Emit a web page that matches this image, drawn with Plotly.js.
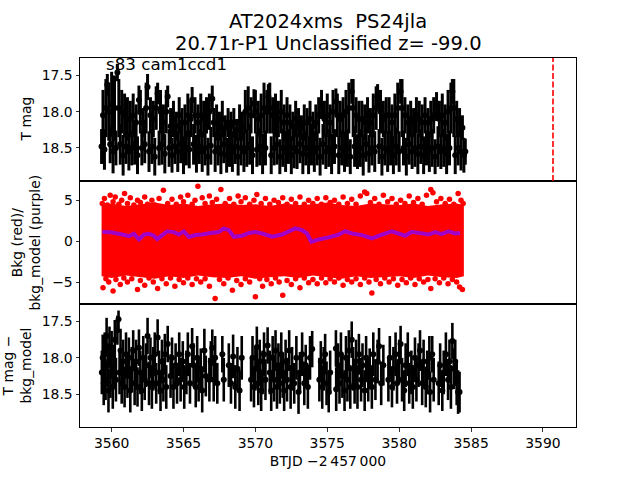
<!DOCTYPE html>
<html><head><meta charset="utf-8">
<script src="https://cdn.plot.ly/plotly-3.0.1.min.js"></script>
<style>html,body{margin:0;padding:0;background:#fff}#chart{width:640px;height:480px}</style>
</head><body><div id="chart"></div>
<script>
// ---------- Top panel: T mag light curve ----------
const tTop = [
3559.3,3559.4,3559.5,3559.6,3559.7,3559.8,3559.9,3560.0,3560.1,3560.2,
3560.3,3560.4,3560.5,3560.6,3560.7,3560.8,3560.9,3561.0,3561.1,3561.2,
3561.3,3561.4,3561.5,3561.6,3561.7,3561.8,3561.9,3562.0,3562.1,3562.2,
3562.3,3562.4,3562.5,3562.6,3562.7,3562.8,3562.9,3563.0,3563.1,3563.2,
3563.3,3563.4,3563.5,3563.6,3563.7,3563.8,3563.9,3564.0,3564.1,3564.2,
3564.3,3564.4,3564.5,3564.6,3564.7,3564.8,3564.9,3565.0,3565.1,3565.2,
3565.3,3565.4,3565.5,3565.6,3565.7,3565.8,3565.9,3566.0,3566.1,3566.2,
3566.3,3566.4,3566.5,3566.6,3566.7,3566.8,3566.9,3567.0,3567.1,3567.2,
3567.3,3567.4,3567.5,3567.6,3567.7,3567.8,3567.9,3568.0,3568.1,3568.2,
3568.3,3568.4,3568.5,3568.6,3568.7,3568.8,3568.9,3569.0,3569.1,3569.2,
3569.3,3569.4,3569.5,3569.6,3569.7,3569.8,3569.9,3570.0,3570.1,3570.2,
3570.3,3570.4,3570.5,3570.6,3570.7,3570.8,3570.9,3571.0,3571.1,3571.2,
3571.3,3571.4,3571.5,3571.6,3571.7,3571.8,3571.9,3572.0,3572.1,3572.2,
3572.3,3572.4,3572.5,3572.6,3572.7,3572.8,3572.9,3573.0,3573.1,3573.2,
3573.3,3573.4,3573.5,3573.6,3573.7,3573.8,3573.9,3574.0,3574.1,3574.2,
3574.3,3574.4,3574.5,3574.6,3574.7,3574.8,3574.9,3575.0,3575.1,3575.2,
3575.3,3575.4,3575.5,3575.6,3575.7,3575.8,3575.9,3576.0,3576.1,3576.2,
3576.3,3576.4,3576.5,3576.6,3576.7,3576.8,3576.9,3577.0,3577.1,3577.2,
3577.3,3577.4,3577.5,3577.6,3577.7,3577.8,3577.9,3578.0,3578.1,3578.2,
3578.3,3578.4,3578.5,3578.6,3578.7,3578.8,3578.9,3579.0,3579.1,3579.2,
3579.3,3579.4,3579.5,3579.6,3579.7,3579.8,3579.9,3580.0,3580.1,3580.2,
3580.3,3580.4,3580.5,3580.6,3580.7,3580.8,3580.9,3581.0,3581.1,3581.2,
3581.3,3581.4,3581.5,3581.6,3581.7,3581.8,3581.9,3582.0,3582.1,3582.2,
3582.3,3582.4,3582.5,3582.6,3582.7,3582.8,3582.9,3583.0,3583.1,3583.2,
3583.3,3583.4,3583.5,3583.6,3583.7,3583.8,3583.9,3584.0,3584.1,3584.2,
3584.3,3584.4,3584.5,3584.6];
const magTop = [
18.48,18.05,18.52,17.95,17.63,18.0,18.45,17.9,18.55,17.95,
18.5,17.46,17.95,18.45,18.0,18.6,18.05,18.48,18.1,18.55,
18.1,18.5,18.05,18.45,18.15,18.6,17.84,18.0,18.5,18.15,
18.45,17.95,17.66,18.55,18.05,18.48,18.1,18.62,17.95,17.75,
18.5,18.0,18.45,18.15,18.58,18.0,17.79,18.5,18.2,18.6,
18.1,18.48,18.2,18.55,18.05,18.45,18.15,18.6,18.15,18.5,
18.05,18.52,18.1,17.84,18.45,18.05,18.58,18.15,18.48,18.05,
18.55,18.1,18.5,18.05,18.62,18.0,18.47,17.82,18.15,18.55,
18.15,18.5,18.2,18.58,18.1,18.45,18.22,18.6,18.15,18.5,
18.2,18.55,18.15,18.48,18.25,18.62,18.15,18.5,18.2,18.55,
18.0,18.5,17.95,18.45,18.05,18.6,17.89,18.0,18.52,18.1,
18.48,18.05,18.58,17.95,18.5,18.0,17.79,17.95,18.6,18.05,
18.5,18.05,18.45,18.1,18.62,18.0,18.5,18.15,18.55,18.05,
18.48,18.15,18.6,18.2,18.5,18.1,18.55,18.15,18.45,18.22,
18.58,18.15,18.5,18.15,18.6,18.1,18.48,18.2,18.55,18.15,
18.5,18.05,18.62,17.9,18.45,18.1,18.55,18.05,18.5,18.15,
18.58,18.0,18.48,17.86,18.05,18.6,18.1,18.5,18.05,18.55,
18.0,18.5,17.95,18.62,17.72,17.95,18.48,18.05,18.55,18.1,
18.5,18.1,18.6,18.15,18.45,18.05,18.58,18.15,18.5,18.05,
18.55,17.95,17.79,18.48,18.0,18.62,18.1,18.5,18.05,18.55,
18.05,18.5,18.15,18.6,18.05,18.48,17.95,18.55,17.72,17.95,
18.5,18.05,18.62,18.15,18.45,18.1,18.55,18.15,18.5,18.05,
18.58,18.1,18.48,18.15,18.6,18.05,18.5,18.15,18.55,18.1,
18.5,18.05,18.62,17.93,18.48,18.1,18.55,18.05,18.5,18.15,
18.58,18.0,18.5,17.95,17.72,17.95,18.6,18.1,18.5,18.15,
18.55,18.22,18.6,18.55];
const errTop = [
0.24,0.35,0.28,0.4,0.15,0.4,0.26,0.45,0.3,0.45,
0.24,0.12,0.4,0.28,0.3,0.28,0.3,0.24,0.3,0.26,
0.25,0.24,0.3,0.28,0.25,0.26,0.2,0.3,0.24,0.2,
0.26,0.35,0.18,0.28,0.25,0.24,0.25,0.26,0.3,0.15,
0.24,0.3,0.28,0.25,0.27,0.3,0.15,0.26,0.25,0.24,
0.25,0.24,0.2,0.28,0.25,0.26,0.2,0.26,0.25,0.24,
0.3,0.26,0.25,0.18,0.28,0.25,0.26,0.25,0.24,0.3,
0.28,0.25,0.24,0.25,0.26,0.25,0.26,0.18,0.2,0.28,
0.25,0.24,0.2,0.28,0.25,0.26,0.17,0.24,0.2,0.26,
0.2,0.28,0.2,0.24,0.15,0.26,0.25,0.24,0.2,0.28,
0.3,0.26,0.3,0.28,0.25,0.26,0.2,0.3,0.24,0.25,
0.26,0.3,0.28,0.35,0.24,0.3,0.17,0.35,0.26,0.25,
0.24,0.3,0.28,0.25,0.24,0.3,0.26,0.25,0.28,0.25,
0.24,0.25,0.26,0.2,0.28,0.25,0.24,0.2,0.26,0.17,
0.28,0.25,0.24,0.2,0.26,0.25,0.26,0.2,0.28,0.25,
0.24,0.25,0.26,0.2,0.28,0.25,0.24,0.3,0.26,0.25,
0.28,0.3,0.24,0.18,0.3,0.26,0.25,0.24,0.25,0.28,
0.3,0.26,0.35,0.24,0.17,0.4,0.28,0.25,0.24,0.25,
0.26,0.25,0.28,0.25,0.24,0.25,0.26,0.2,0.24,0.3,
0.28,0.3,0.17,0.24,0.3,0.26,0.25,0.24,0.25,0.28,
0.25,0.24,0.25,0.26,0.3,0.26,0.35,0.28,0.17,0.4,
0.24,0.25,0.26,0.25,0.28,0.25,0.24,0.2,0.26,0.25,
0.28,0.25,0.24,0.25,0.26,0.25,0.24,0.2,0.28,0.25,
0.26,0.25,0.24,0.2,0.28,0.25,0.24,0.3,0.26,0.25,
0.28,0.3,0.24,0.35,0.17,0.4,0.26,0.25,0.24,0.2,
0.26,0.17,0.24,0.18];
const discoveryTime = 3590.7;

// ---------- Middle panel: background (red) and background model (purple) ----------
const tBkgEnv = [3559.3,3560,3561,3562,3563,3564,3565,3566,3567,3568,3569,3570,3571,3572,3573,3574,3575,3576,3577,3578,3579,3580,3581,3582,3583,3584,3584.5];
const bkgEnvHigh = [4.4,4.6,4.3,4.5,4.7,4.4,4.6,4.3,4.5,4.6,4.4,4.5,4.3,4.6,4.4,4.5,4.7,4.4,4.3,4.6,4.5,4.4,4.6,4.3,4.5,4.6,4.4];
const bkgEnvLow = [-4.3,-4.5,-4.2,-4.4,-4.6,-4.3,-4.5,-4.2,-4.4,-4.5,-4.3,-4.6,-4.4,-4.3,-4.5,-4.2,-4.4,-4.6,-4.3,-4.5,-4.4,-4.3,-4.5,-4.2,-4.4,-4.5,-4.3];
const tBkg = [
3559.35,3559.5,3559.7,3559.9,3560.1,3560.25,3560.5,3560.7,3560.9,3561.1,3561.3,3561.55,3561.8,3562.0,3562.3,3562.5,3562.8,3563.0,3563.3,3563.6,
3563.9,3564.2,3564.5,3564.8,3565.0,3565.3,3565.6,3565.8,3566.0,3566.3,3566.5,3566.8,3567.0,3567.3,3567.6,3567.9,3568.2,3568.5,3568.8,3569.0,
3569.3,3569.6,3569.9,3570.1,3570.4,3570.7,3571.0,3571.3,3571.6,3571.9,3572.2,3572.5,3572.8,3573.1,3573.4,3573.7,3574.0,3574.3,3574.6,3574.9,
3575.2,3575.5,3575.8,3576.1,3576.4,3576.7,3577.0,3577.3,3577.6,3577.75,3578.0,3578.3,3578.6,3578.9,3579.2,3579.5,3579.8,3580.1,3580.4,3580.7,
3581.0,3581.3,3581.6,3581.9,3582.2,3582.35,3582.6,3582.9,3583.2,3583.5,3583.8,3584.1,3584.3,3584.45,
3559.4,3559.6,3559.8,3560.1,3560.3,3560.6,3560.85,3561.1,3561.4,3561.8,3562.0,3562.3,3562.6,3562.9,3563.2,3563.5,3563.8,3564.1,3564.4,3564.7,
3565.0,3565.3,3565.6,3565.9,3566.2,3566.5,3566.8,3567.2,3567.5,3567.8,3568.1,3568.4,3568.7,3569.0,3569.3,3569.6,3570.0,3570.3,3570.5,3570.8,
3571.1,3571.4,3571.65,3571.9,3572.2,3572.5,3572.8,3573.1,3573.4,3573.7,3574.0,3574.3,3574.6,3574.9,3575.2,3575.5,3575.8,3576.1,3576.4,3576.7,
3577.0,3577.3,3577.6,3577.9,3578.1,3578.4,3578.7,3579.0,3579.3,3579.6,3579.9,3580.2,3580.5,3580.8,3581.1,3581.4,3581.7,3582.0,3582.2,3582.5,
3582.8,3583.1,3583.4,3583.7,3584.0,3584.2,3584.4];
const bkg = [
4.6,5.2,4.4,5.6,4.8,5.4,4.5,5.0,5.8,4.6,5.3,4.4,5.0,4.7,5.4,4.5,5.0,4.4,5.2,6.2,
4.6,5.1,4.5,5.4,4.8,5.6,4.5,5.0,6.7,5.3,4.6,5.5,4.7,5.1,6.3,4.6,5.2,4.5,5.5,4.8,
5.3,4.5,5.0,5.7,4.6,5.2,4.5,5.0,4.7,5.3,4.5,5.1,4.6,5.4,4.5,5.0,4.6,5.2,4.5,5.3,
4.7,5.0,4.5,5.4,4.6,5.1,4.5,5.5,6.0,5.8,4.7,5.2,4.5,5.6,4.8,5.2,4.5,5.0,4.6,5.5,
4.7,5.2,4.5,5.6,6.3,5.9,4.8,5.2,4.6,5.1,4.5,5.8,5.0,4.6,
-5.7,-4.6,-5.0,-6.1,-4.7,-5.3,-4.5,-5.0,-4.6,-5.9,-4.8,-5.4,-4.5,-5.0,-5.8,-4.6,-5.2,-4.5,-5.5,-4.7,
-5.1,-4.5,-5.3,-4.6,-5.0,-4.6,-5.5,-7.0,-4.7,-5.2,-4.5,-6.0,-4.8,-5.3,-4.6,-5.0,-6.8,-4.6,-5.5,-4.7,
-5.2,-4.5,-5.0,-6.6,-4.8,-5.3,-4.6,-5.7,-4.5,-5.1,-4.7,-5.2,-4.5,-5.1,-4.6,-5.0,-4.5,-5.4,-4.7,-5.0,
-4.6,-5.3,-4.5,-5.0,-6.35,-4.7,-5.2,-4.5,-5.0,-4.6,-5.4,-4.7,-5.1,-4.5,-5.3,-4.6,-5.0,-4.7,-5.8,-4.6,
-5.1,-4.5,-5.2,-4.7,-5.0,-5.6,-5.9];
const tModel = [3559.35,3560.05,3560.74,3561.2,3561.55,3561.9,3562.25,3562.59,3562.94,3563.17,3563.52,3563.87,3564.33,3564.68,3565.02,3565.37,3565.83,3566.3,3566.88,3567.45,3567.8,3568.15,3568.5,3569.07,3569.54,3570.0,3570.46,3571.16,3571.85,3572.31,3572.78,3573.24,3573.59,3573.89,3574.4,3575.09,3575.79,3576.25,3576.71,3577.41,3578.1,3578.8,3579.49,3579.95,3580.42,3580.88,3581.46,3582.04,3582.5,3582.96,3583.43,3583.89,3584.24];
const bkgModel = [1.14,1.06,0.8,0.6,0.9,0.2,0.8,0.9,0.65,0.25,0.73,1.2,1.1,0.8,1.2,0.5,0.75,0.8,1.0,1.1,1.55,1.34,0.53,0.65,1.0,1.1,0.93,0.53,0.8,1.2,1.55,1.34,0.93,-0.1,0.2,0.45,0.8,1.2,0.93,0.73,0.33,0.8,1.2,0.93,0.65,1.14,0.93,0.8,1.1,0.85,1.2,0.93,1.0];

// ---------- Bottom panel: T mag - bkg_model ----------
const tSub = [
3559.32,3559.38,3559.45,3559.52,3559.58,3559.65,3559.72,3559.78,3559.85,3559.92,3560.0,3560.08,3560.15,3560.22,3560.3,3560.4,3560.48,3560.55,3560.62,3560.7,
3560.8,3560.9,3561.0,3561.1,3561.2,3561.3,3561.4,3561.5,3561.6,3561.7,3561.8,3561.9,3562.0,3562.1,3562.2,3562.3,3562.4,3562.5,3562.6,3562.7,3562.8,3562.9,3563.0,3563.1,3563.2,3563.3,3563.4,3563.5,3563.6,3563.7,3563.8,3563.9,
3564.1,3564.2,3564.3,3564.45,3564.55,3564.7,3564.8,3564.95,3565.05,3565.2,3565.3,3565.45,3565.6,3565.7,3565.85,3565.95,3566.05,3566.2,3566.3,3566.45,3566.55,
3566.8,3566.9,3567.0,3567.1,3567.2,3567.35,3567.7,3567.8,3568.15,3568.3,3568.45,3568.6,3568.75,3568.9,3569.05,
3569.7,3569.8,3569.9,3570.0,3570.1,3570.2,3570.3,3570.4,3570.5,3570.6,3570.7,3570.85,
3571.0,3571.1,3571.2,3571.3,3571.4,3571.5,3571.6,3571.7,3571.8,3571.9,3572.0,3572.1,3572.2,3572.35,3572.45,3572.55,3572.7,3572.85,3573.0,3573.1,3573.25,3573.4,3573.5,3573.65,3573.8,3573.95,
3574.45,3574.55,3574.65,3574.75,3574.85,3574.95,3575.1,3575.2,
3575.6,3575.62,3575.75,3575.85,3575.95,3576.05,3576.2,3576.3,3576.4,3576.5,3576.6,3576.7,3576.8,3576.9,3577.0,3577.1,3577.2,3577.35,3577.45,3577.6,3577.7,3577.85,3577.95,3578.1,3578.2,3578.35,3578.5,3578.6,3578.75,3578.9,
3579.25,3579.35,3579.5,3579.6,3579.75,3579.85,3580.0,3580.1,3580.2,3580.35,3580.45,3580.6,3580.7,3580.85,3580.95,
3581.1,3581.2,3581.35,3581.45,3581.6,3581.7,3581.85,3581.95,3582.1,3582.15,3582.3,3582.4,
3582.75,3582.85,3583.0,3583.1,3583.25,3583.4,3583.5,3583.6,3583.7,3583.8,3583.9,3584.0,3584.1,3584.2];
const magSub = [
18.2,18.0,18.35,17.95,18.3,17.7,18.1,18.45,17.85,18.25,17.95,18.4,18.1,17.75,18.3,17.62,17.47,18.2,17.9,18.35,
18.05,18.4,17.95,18.25,18.0,18.45,18.15,17.9,18.35,18.05,18.4,17.86,18.2,18.45,18.0,18.3,18.1,17.7,18.35,18.0,18.4,18.15,17.95,18.35,17.72,18.2,18.45,18.05,18.3,17.95,18.4,17.81,
18.25,18.0,18.4,18.1,18.35,17.95,18.3,18.05,18.4,18.2,17.95,18.35,17.84,18.1,18.4,18.0,18.3,18.15,18.45,17.9,18.25,
18.3,18.05,17.86,18.3,18.0,18.35,17.95,18.3,18.1,18.35,17.98,18.4,18.15,18.45,18.0,
18.3,18.0,18.4,18.15,17.85,18.35,18.05,18.45,18.2,17.95,18.3,17.83,
18.2,18.45,18.0,18.3,17.9,18.4,18.1,18.35,17.95,18.25,18.45,18.05,18.3,17.9,18.4,18.15,18.35,18.0,18.47,18.2,17.95,18.35,18.1,18.4,18.0,17.88,
18.3,18.05,18.4,18.15,17.95,18.35,18.47,18.2,
17.87,18.43,18.1,18.35,17.95,18.25,18.45,18.0,18.3,17.9,18.4,17.75,18.15,18.35,18.05,18.4,17.95,18.3,18.1,18.45,18.0,18.3,18.15,18.4,17.95,18.3,18.05,17.84,18.35,18.1,
18.3,18.0,18.4,18.15,17.95,18.35,18.05,17.81,18.3,18.45,18.1,17.95,18.35,18.2,18.4,
18.0,18.3,18.1,17.9,18.35,18.05,18.4,18.2,18.0,18.47,17.95,18.3,
18.35,18.1,18.45,18.2,17.95,18.3,18.05,18.4,17.77,18.15,18.05,18.35,18.47,18.47];
const errSub = [
0.3,0.32,0.3,0.3,0.28,0.25,0.3,0.3,0.28,0.3,0.32,0.3,0.28,0.27,0.3,0.2,0.12,0.3,0.3,0.28,
0.3,0.28,0.3,0.3,0.28,0.3,0.3,0.28,0.3,0.3,0.27,0.25,0.3,0.28,0.3,0.28,0.3,0.25,0.3,0.28,0.3,0.3,0.3,0.28,0.25,0.3,0.28,0.3,0.3,0.28,0.3,0.25,
0.3,0.28,0.3,0.3,0.28,0.3,0.3,0.28,0.3,0.3,0.3,0.28,0.25,0.3,0.28,0.3,0.3,0.28,0.3,0.3,0.28,
0.3,0.28,0.25,0.3,0.3,0.28,0.25,0.3,0.3,0.28,0.3,0.3,0.3,0.28,0.3,
0.3,0.3,0.28,0.3,0.28,0.3,0.3,0.28,0.3,0.3,0.28,0.25,
0.3,0.28,0.3,0.3,0.28,0.3,0.3,0.28,0.3,0.3,0.28,0.3,0.3,0.28,0.3,0.3,0.28,0.3,0.3,0.28,0.3,0.3,0.28,0.3,0.3,0.25,
0.3,0.28,0.3,0.3,0.28,0.3,0.28,0.3,
0.25,0.3,0.3,0.28,0.3,0.3,0.28,0.3,0.3,0.28,0.3,0.25,0.3,0.28,0.3,0.3,0.28,0.3,0.3,0.28,0.3,0.3,0.28,0.3,0.3,0.28,0.3,0.25,0.3,0.28,
0.3,0.3,0.28,0.3,0.3,0.28,0.3,0.25,0.3,0.28,0.3,0.3,0.28,0.3,0.3,
0.28,0.3,0.3,0.28,0.3,0.3,0.28,0.3,0.3,0.28,0.25,0.3,
0.3,0.3,0.28,0.3,0.3,0.28,0.3,0.3,0.25,0.28,0.3,0.3,0.3,0.28];

// ---------- Text ----------
const titleLine1 = 'AT2024xms\u00a0 PS24jla';
const titleLine2 = '20.71r-P1 Unclassified z= -99.0';
const panelLabel = 's83 cam1ccd1';
const xTitle = 'BTJD \u22122\u2009457\u2009000';
const yTitleTop = 'T mag';
const yTitleMid = 'Bkg (red)/<br>bkg_model (purple)';
const yTitleBot = 'T mag \u2212<br>bkg_model';

const FONT = 'DejaVu Sans';
const TICKFONT = {family: FONT, size: 13.9, color: '#000'};

function ebTrace(x, y, e, xa, ya, thick) {
  return {
    type: 'scatter', mode: 'markers', x: x, y: y, xaxis: xa, yaxis: ya,
    marker: {color: '#000', size: 6},
    error_y: {type: 'data', array: e, visible: true, color: '#000', thickness: thick, width: 0},
    hoverinfo: 'skip', showlegend: false
  };
}

const traces = [
  ebTrace(tTop, magTop, errTop, 'x2', 'y', 3),
  {
    type: 'scatter', mode: 'lines', xaxis: 'x3', yaxis: 'y2',
    x: tBkgEnv.concat(tBkgEnv.slice().reverse()),
    y: bkgEnvHigh.concat(bkgEnvLow.slice().reverse()),
    fill: 'toself', fillcolor: '#ff0000', line: {width: 0, color: '#ff0000'},
    hoverinfo: 'skip', showlegend: false
  },
  {
    type: 'scatter', mode: 'markers', x: tBkg, y: bkg, xaxis: 'x3', yaxis: 'y2',
    marker: {color: '#ff0000', size: 5.5}, hoverinfo: 'skip', showlegend: false
  },
  {
    type: 'scatter', mode: 'lines', x: tModel, y: bkgModel, xaxis: 'x3', yaxis: 'y2',
    line: {color: '#a000c8', width: 4}, hoverinfo: 'skip', showlegend: false
  },
  ebTrace(tSub, magSub, errSub, 'x', 'y3', 2.6)
];

const xCommon = {
  range: [3557.8, 3592.3], showgrid: false, zeroline: false,
  showline: true, mirror: true, linecolor: '#000', linewidth: 1
};
const yCommon = {
  showgrid: false, zeroline: false, showline: true, mirror: true,
  linecolor: '#000', linewidth: 1, ticks: 'outside', ticklen: 3.5, tickwidth: 0.8,
  tickcolor: '#000', tickfont: TICKFONT
};

const layout = {
  width: 640, height: 480,
  margin: {l: 80, r: 64, t: 57.6, b: 52.8, pad: 0},
  paper_bgcolor: '#fff', plot_bgcolor: '#fff',
  font: {family: FONT, color: '#000'},
  showlegend: false,
  title: {
    text: titleLine1, font: {family: FONT, size: 19.5, color: '#000'},
    xref: 'paper', x: 0.5, xanchor: 'center',
    yref: 'container', y: 1 - 21 / 480, yanchor: 'middle'
  },
  xaxis: Object.assign({}, xCommon, {
    anchor: 'y3', domain: [0, 1], ticks: 'outside', ticklen: 3.5, tickwidth: 0.8, tickcolor: '#000',
    tick0: 3560, dtick: 5, tickfont: TICKFONT,
    title: {text: xTitle, font: {family: FONT, size: 13.9, color: '#000'}, standoff: 6}
  }),
  xaxis2: Object.assign({}, xCommon, {anchor: 'y', matches: 'x', showticklabels: false, ticks: ''}),
  xaxis3: Object.assign({}, xCommon, {anchor: 'y2', matches: 'x', showticklabels: false, ticks: ''}),
  yaxis: Object.assign({}, yCommon, {
    anchor: 'x2', domain: [2 / 3, 1], range: [18.955, 17.26],
    tickvals: [17.5, 18.0, 18.5], ticktext: ['17.5', '18.0', '18.5']
  }),
  yaxis2: Object.assign({}, yCommon, {
    anchor: 'x3', domain: [1 / 3, 2 / 3], range: [-7.68, 7.34],
    tickvals: [-5, 0, 5]
  }),
  yaxis3: Object.assign({}, yCommon, {
    anchor: 'x', domain: [0, 1 / 3], range: [18.95, 17.26],
    tickvals: [17.5, 18.0, 18.5], ticktext: ['17.5', '18.0', '18.5']
  }),
  shapes: [{
    type: 'line', xref: 'x2', yref: 'y domain', x0: discoveryTime, x1: discoveryTime, y0: 0, y1: 1,
    line: {color: '#ff0000', width: 1.6, dash: '6px,2.5px'}
  }],
  annotations: [
    {text: titleLine2, xref: 'paper', yref: 'paper', x: 0.5, y: 1, xanchor: 'center', yanchor: 'middle',
     yshift: 15, showarrow: false, font: {family: FONT, size: 19.5, color: '#000'}},
    {text: panelLabel, xref: 'x2', yref: 'y domain', x: 3559.45, y: 1, xanchor: 'left', yanchor: 'top',
     yshift: 6, showarrow: false, font: {family: FONT, size: 16.7, color: '#000'}},
    {text: yTitleTop, xref: 'paper', yref: 'y domain', x: 0, y: 0.5, xanchor: 'center', yanchor: 'middle',
     xshift: -55, textangle: -90, showarrow: false, font: {family: FONT, size: 13.9, color: '#000'}},
    {text: yTitleMid, xref: 'paper', yref: 'y2 domain', x: 0, y: 0.5, xanchor: 'center', yanchor: 'middle',
     xshift: -55, textangle: -90, showarrow: false, font: {family: FONT, size: 13.9, color: '#000'}},
    {text: yTitleBot, xref: 'paper', yref: 'y3 domain', x: 0, y: 0.5, xanchor: 'center', yanchor: 'middle',
     xshift: -64, textangle: -90, showarrow: false, font: {family: FONT, size: 13.9, color: '#000'}}
  ]
};

Plotly.newPlot('chart', traces, layout, {staticPlot: true, displayModeBar: false});
</script></body></html>
